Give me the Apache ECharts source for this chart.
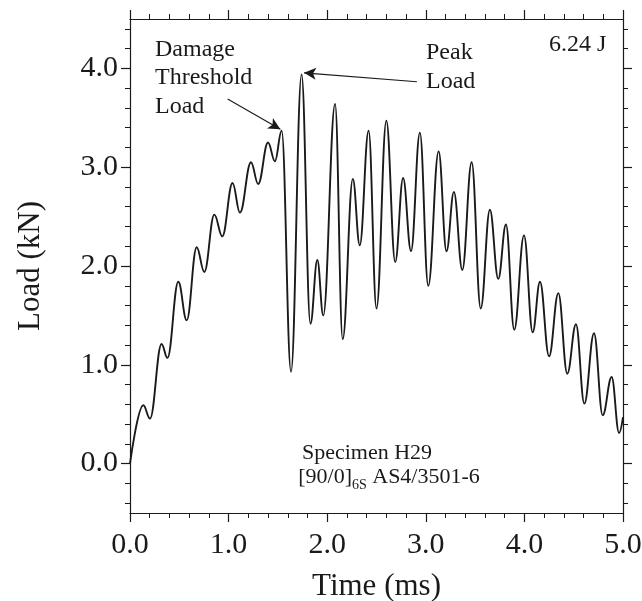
<!DOCTYPE html>
<html>
<head>
<meta charset="utf-8">
<script src="https://cdn.jsdelivr.net/npm/echarts@6/dist/echarts.min.js"></script>
<style>
  html, body { margin: 0; padding: 0; background: #fff; }
  #chart { width: 642px; height: 601px; }
</style>
</head>
<body>
<div id="chart"></div>
<script>
// 时间 (ms) —— 曲线的峰和谷
const timeMs = [0, 0.135, 0.203, 0.32, 0.38, 0.49, 0.575, 0.676, 0.754, 0.855, 0.936,
  1.04, 1.115, 1.227, 1.30, 1.40, 1.47, 1.538, 1.633, 1.74, 1.83, 1.90, 1.96,
  2.08, 2.157, 2.26, 2.33, 2.42, 2.50, 2.60, 2.69, 2.77, 2.85, 2.94,
  3.025, 3.13, 3.21, 3.285, 3.37, 3.465, 3.557, 3.65, 3.735, 3.813, 3.897, 3.996,
  4.084, 4.158, 4.25, 4.344, 4.435, 4.523, 4.608, 4.706, 4.794, 4.885, 4.96, 5.0];
// 载荷 (kN)
const loadKN = [0, 0.59, 0.455, 1.21, 1.07, 1.84, 1.45, 2.19, 1.94, 2.52, 2.30,
  2.84, 2.54, 3.05, 2.83, 3.25, 3.06, 3.37, 0.93, 3.94, 1.415, 2.06, 1.50,
  3.64, 1.26, 2.88, 2.21, 3.37, 1.57, 3.47, 2.04, 2.89, 2.15, 3.35,
  1.80, 3.16, 2.15, 2.75, 1.96, 3.05, 1.57, 2.57, 1.87, 2.42, 1.355, 2.31,
  1.33, 1.84, 1.085, 1.725, 0.91, 1.41, 0.607, 1.32, 0.49, 0.876, 0.31, 0.47];

// 坐标轴刻度
const yMajor = [0, 1, 2, 3, 4];
const yMinor = [-0.4, -0.2, 0.2, 0.4, 0.6, 0.8, 1.2, 1.4, 1.6, 1.8, 2.2, 2.4, 2.6, 2.8,
  3.2, 3.4, 3.6, 3.8, 4.2, 4.4];

// 箭头 [起点, 终点]
const damageArrow = [[0.99, 3.69], [1.525, 3.385]];
const peakArrow = [[2.91, 3.865], [1.765, 3.955]];

const FONT = '"Liberation Serif", "DejaVu Serif", serif';
const INK = '#1a1a1a';

const chart = echarts.init(document.getElementById('chart'));

function xAxisCfg(pos, labels) {
    return {
        type: 'value', min: 0, max: 5, interval: 1, position: pos,
        axisLine: { show: true, onZero: false, lineStyle: { color: INK, width: 1.2 } },
        axisTick: { show: true, inside: false, length: 9, lineStyle: { color: INK, width: 1.2 } },
        minorTick: { show: true, splitNumber: 5, length: 5, lineStyle: { color: INK, width: 1 } },
        axisLabel: {
            show: labels, margin: 17, fontSize: 30, fontFamily: FONT, color: INK,
            formatter: v => v.toFixed(1)
        },
        splitLine: { show: false },
        minorSplitLine: { show: false }
    };
}

function yAxisCfg(pos, ticks, len, showLine, labels) {
    return {
        type: 'value', min: -0.5, max: 4.5, position: pos,
        axisLine: { show: showLine, onZero: false, lineStyle: { color: INK, width: 1.2 } },
        axisTick: { show: true, inside: false, length: len, customValues: ticks,
            lineStyle: { color: INK, width: len > 6 ? 1.2 : 1 } },
        axisLabel: labels ? {
            show: true, margin: 12, fontSize: 30, fontFamily: FONT, color: INK,
            customValues: yMajor, formatter: v => v.toFixed(1)
        } : { show: false },
        splitLine: { show: false }
    };
}

const yMain = yAxisCfg('left', yMajor, 9, true, true);
yMain.name = 'Load (kN)';
yMain.nameLocation = 'middle';
yMain.nameGap = 84;
yMain.nameTextStyle = { fontSize: 31, fontFamily: FONT, color: INK };

const xMain = xAxisCfg('bottom', true);
xMain.name = 'Time (ms)';
xMain.nameLocation = 'middle';
xMain.nameGap = 58;
xMain.nameTextStyle = { fontSize: 31, fontFamily: FONT, color: INK };

const option = {
    backgroundColor: '#fff',
    animation: false,
    grid: { left: 130, right: 19, top: 19, bottom: 88, containLabel: false, outerBoundsMode: 'none' },
    xAxis: [xMain, xAxisCfg('top', false)],
    yAxis: [
        yMain,
        yAxisCfg('left', yMinor, 5, false, false),
        yAxisCfg('right', yMajor, 9, true, false),
        yAxisCfg('right', yMinor, 5, false, false)
    ],
    series: [{
        type: 'line',
        xAxisIndex: 0,
        yAxisIndex: 0,
        data: timeMs.map((t, i) => [t, loadKN[i]]),
        showSymbol: false,
        smooth: 0.4,
        smoothMonotone: 'x',
        lineStyle: { color: INK, width: 1.9 },
        markLine: {
            silent: true,
            symbol: ['none', 'arrow'],
            symbolSize: [9, 12],
            label: { show: false },
            lineStyle: { color: INK, width: 1.1, type: 'solid' },
            data: [
                [{ coord: damageArrow[0] }, { coord: damageArrow[1] }],
                [{ coord: peakArrow[0] }, { coord: peakArrow[1] }]
            ]
        }
    }],
    graphic: [
        { type: 'text', left: 155, top: 35,
          style: { text: 'Damage\nThreshold\nLoad', font: '24px ' + FONT, lineHeight: 28.5, fill: INK } },
        { type: 'text', left: 426, top: 38,
          style: { text: 'Peak\nLoad', font: '24px ' + FONT, lineHeight: 29, fill: INK } },
        { type: 'text', left: 549, top: 33,
          style: { text: '6.24 J', font: '24px ' + FONT, fill: INK } },
        { type: 'text', x: 367, y: 453,
          style: { text: 'Specimen H29', font: '22px ' + FONT, fill: INK,
                   align: 'center', verticalAlign: 'middle' } },
        { type: 'text', x: 389, y: 477,
          style: { text: '[90/0]{sub|6S} AS4/3501-6', font: '22px ' + FONT, fill: INK,
                   align: 'center', verticalAlign: 'middle',
                   rich: { sub: { fontSize: 14, fontFamily: FONT, fill: INK, padding: [16, 0, 0, 0] } } } }
    ]
};

chart.setOption(option);
</script>
</body>
</html>
